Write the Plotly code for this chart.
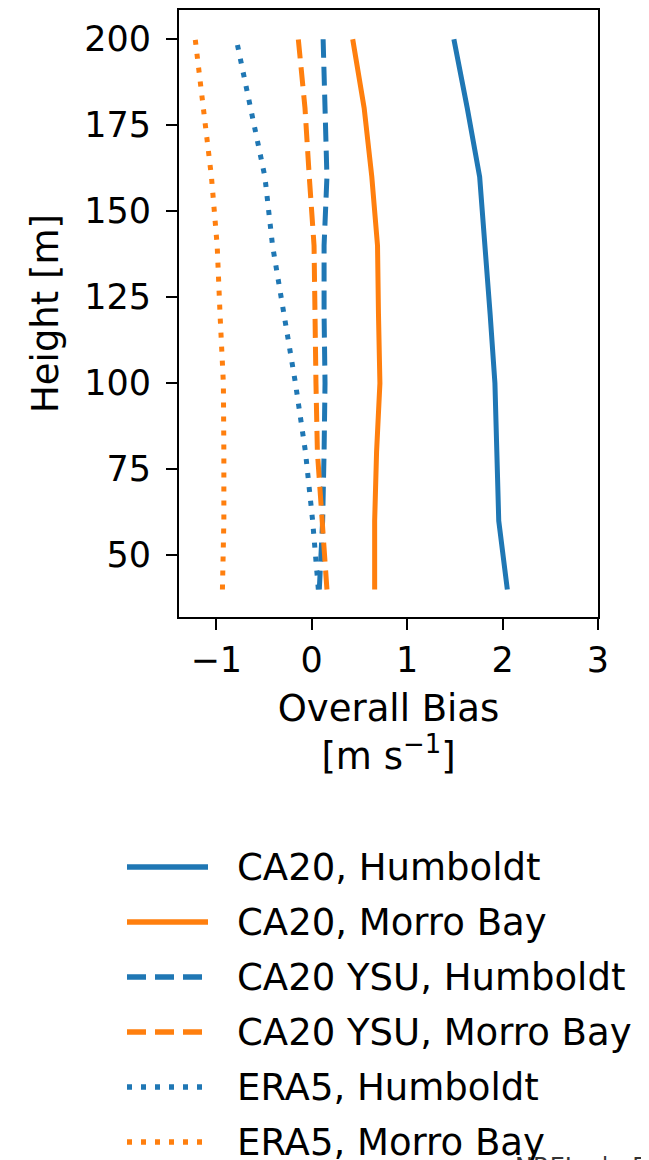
import plotly.graph_objects as go

heights = [40, 60, 80, 100, 120, 140, 160, 180, 200]
ca20_humboldt = [2.05, 1.96, 1.94, 1.92, 1.87, 1.82, 1.76, 1.63, 1.49]
ca20_morro = [0.66, 0.66, 0.68, 0.715, 0.70, 0.69, 0.63, 0.55, 0.43]
ysu_humboldt = [0.08, 0.115, 0.13, 0.14, 0.13, 0.13, 0.16, 0.14, 0.12]
ysu_morro = [0.16, 0.105, 0.06, 0.045, 0.03, 0.025, -0.025, -0.07, -0.14]
era5_humboldt = [0.07, 0.01, -0.065, -0.17, -0.29, -0.41, -0.49, -0.64, -0.79]
era5_morro = [-0.935, -0.92, -0.92, -0.925, -0.96, -0.99, -1.05, -1.13, -1.22]

series_names = ["CA20, Humboldt", "CA20, Morro Bay", "CA20 YSU, Humboldt",
                "CA20 YSU, Morro Bay", "ERA5, Humboldt", "ERA5, Morro Bay"]
series_values = [ca20_humboldt, ca20_morro, ysu_humboldt, ysu_morro,
                 era5_humboldt, era5_morro]

x_ticks = [-1, 0, 1, 2, 3]
y_ticks = [50, 75, 100, 125, 150, 175, 200]

BLUE = "#1f77b4"
ORANGE = "#ff7f0e"
colors = [BLUE, ORANGE, BLUE, ORANGE, BLUE, ORANGE]
dashes = ["solid", "solid", "19px,9px", "19px,9px", "5px,9px", "5px,9px"]
LW = 5
FONT = "DejaVu Sans"

fig = go.Figure()
for name, vals, c, d in zip(series_names, series_values, colors, dashes):
    fig.add_trace(go.Scatter(x=vals, y=heights, mode="lines", name=name,
                             line=dict(color=c, width=LW, dash=d),
                             showlegend=False))

# page offset of 8px (body margin) is compensated in the figure size
OFF = 8
W, H = 649 - OFF, 1160 - OFF
ML, MR, MT, MB = 179 - OFF, 51, 2, 543
pw, ph = W - ML - MR, H - MT - MB

def px_x(px):
    return (px - OFF - ML) / pw

def px_y(py):
    return (H - MB - (py - OFF)) / ph

# custom legend
row_y = [867, 922, 977, 1032, 1087, 1142]
for name, c, d, py in zip(series_names, colors, dashes, row_y):
    fig.add_shape(type="line", xref="paper", yref="paper",
                  x0=px_x(127), x1=px_x(208), y0=px_y(py), y1=px_y(py),
                  line=dict(color=c, width=LW + 0.5, dash=d))
    fig.add_annotation(x=px_x(235), y=px_y(py), xref="paper", yref="paper",
                       text=name, showarrow=False, xanchor="left", yanchor="middle",
                       font=dict(family=FONT, size=37, color="black"))

fig.add_annotation(x=px_x(513), y=px_y(1151), xref="paper", yref="paper",
                   text="NREL   |   5", showarrow=False, xanchor="left", yanchor="top",
                   font=dict(family=FONT, size=24, color="#333333"))

axis_common = dict(showline=True, linecolor="black", linewidth=2, mirror=True,
                   ticks="outside", ticklen=11, tickwidth=2, tickcolor="black",
                   showgrid=False, zeroline=False,
                   tickfont=dict(family=FONT, size=35, color="black"))

fig.update_layout(
    width=W, height=H,
    margin=dict(l=ML, r=MR, t=MT, b=MB, autoexpand=False),
    paper_bgcolor="white", plot_bgcolor="white",
    showlegend=False,
    xaxis=dict(range=[-1.39, 3.0], tickvals=x_ticks,
               title=dict(text="Overall Bias<br>[m s<sup>−1</sup>]",
                          font=dict(family=FONT, size=37, color="black"), standoff=16),
               **axis_common),
    yaxis=dict(range=[32, 208.5], tickvals=y_ticks, ticklabelstandoff=8,
               title=dict(text="Height [m]",
                          font=dict(family=FONT, size=37, color="black"), standoff=14),
               **axis_common),
)

fig.write_html("out.html")
